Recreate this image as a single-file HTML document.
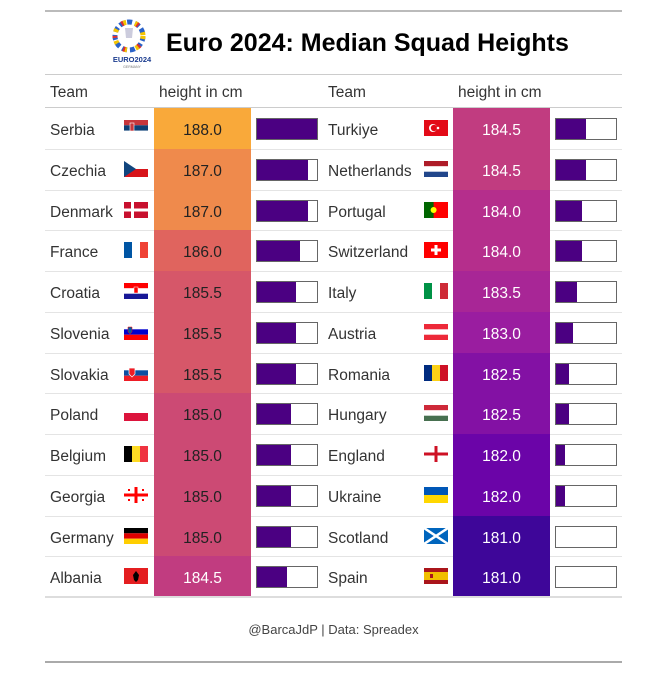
<!DOCTYPE html>
<html><head><meta charset="utf-8">
<style>
body{margin:0;background:#fff;font-family:"Liberation Sans",sans-serif;}
#wrap{position:relative;width:667px;height:683px;}
.line{position:absolute;left:45px;width:577px;}
.txt{position:absolute;font-size:15.5px;color:#333;white-space:nowrap;}
</style></head>
<body>
<div id="wrap">
<div class="line" style="top:10px;height:2px;background:#bbb"></div>
<svg style="position:absolute;left:107px;top:16px" width="50" height="56" viewBox="0 0 50 56">
<circle cx="22" cy="20" r="14" fill="none" stroke="#2a62c9" stroke-width="5" stroke-dasharray="5 3"/>
<circle cx="22" cy="20" r="14" fill="none" stroke="#f4c400" stroke-width="5" stroke-dasharray="3 9"/>
<circle cx="22" cy="20" r="14" fill="none" stroke="#e03030" stroke-width="5" stroke-dasharray="2 14" stroke-dashoffset="6"/>
<path d="M18 12h8l-1 10h-6z" fill="#ccd"/>
<text x="25" y="46" font-size="7.5" font-weight="bold" fill="#1b3c8f" text-anchor="middle" font-family="Liberation Sans">EURO2024</text>
<text x="25" y="52" font-size="3.5" fill="#777" text-anchor="middle" font-family="Liberation Sans">GERMANY</text>
</svg>
<div class="txt" style="left:166px;top:29px;font-size:25px;font-weight:bold;color:#000">Euro 2024: Median Squad Heights</div>
<div class="line" style="top:74px;height:1px;background:#ccc"></div>
<div class="txt" style="left:50px;top:84px">Team</div>
<div class="txt" style="left:159px;top:84px">height in cm</div>
<div class="txt" style="left:328px;top:84px">Team</div>
<div class="txt" style="left:458px;top:84px">height in cm</div>
<div class="line" style="top:107px;height:1px;background:#ccc"></div>
<div id="rows"></div>
<div class="line" style="top:596px;height:2px;background:#ddd"></div>
<div class="txt" style="left:0;width:667px;text-align:center;top:622px;font-size:13px;color:#444">@BarcaJdP | Data: Spreadex</div>
<div class="line" style="top:661px;height:2px;background:#aaa"></div>
</div>
<script>
const teamsLeft=["Serbia","Czechia","Denmark","France","Croatia","Slovenia","Slovakia","Poland","Belgium","Georgia","Germany","Albania"];
const heightsLeft=[188.0,187.0,187.0,186.0,185.5,185.5,185.5,185.0,185.0,185.0,185.0,184.5];
const teamsRight=["Turkiye","Netherlands","Portugal","Switzerland","Italy","Austria","Romania","Hungary","England","Ukraine","Scotland","Spain"];
const heightsRight=[184.5,184.5,184.0,184.0,183.5,183.0,182.5,182.5,182.0,182.0,181.0,181.0];
const minH=181,maxH=188;
const stops=[[181,[62,6,153]],[182,[107,4,168]],[183,[154,29,160]],[184,[181,46,140]],[185,[204,74,116]],[186,[224,100,94]],[187,[239,138,76]],[188,[249,169,58]]];
function color(v){for(let i=0;i<stops.length-1;i++){const a=stops[i],b=stops[i+1];if(v<=b[0]){const t=(v-a[0])/(b[0]-a[0]);return 'rgb('+a[1].map((c,k)=>Math.round(c+(b[1][k]-c)*t)).join(',')+')';}}return 'rgb(249,169,58)';}
const F={
Serbia:'<rect width="24" height="5.3" fill="#c6363c"/><rect y="5.3" width="24" height="5.4" fill="#0c4076"/><rect y="10.7" width="24" height="5.3" fill="#fff"/><rect x="6" y="3" width="4" height="8" fill="#c6363c" stroke="#fff" stroke-width=".6"/>',
Czechia:'<rect width="24" height="8" fill="#fff"/><rect y="8" width="24" height="8" fill="#d7141a"/><path d="M0 0L12 8L0 16z" fill="#11457e"/>',
Denmark:'<rect width="24" height="16" fill="#c8102e"/><rect x="7" width="3" height="16" fill="#fff"/><rect y="6.5" width="24" height="3" fill="#fff"/>',
France:'<rect width="8" height="16" fill="#0055a4"/><rect x="8" width="8" height="16" fill="#fff"/><rect x="16" width="8" height="16" fill="#ef4135"/>',
Croatia:'<rect width="24" height="5.3" fill="#f00"/><rect y="5.3" width="24" height="5.4" fill="#fff"/><rect y="10.7" width="24" height="5.3" fill="#171796"/><rect x="10" y="4" width="4" height="6" fill="#f00" stroke="#fff" stroke-width=".5"/>',
Slovenia:'<rect width="24" height="5.3" fill="#fff"/><rect y="5.3" width="24" height="5.4" fill="#0000cd"/><rect y="10.7" width="24" height="5.3" fill="#f00"/><path d="M4 3h4v5l-2 2l-2-2z" fill="#005da4" stroke="#f00" stroke-width=".5"/>',
Slovakia:'<rect width="24" height="5.3" fill="#fff"/><rect y="5.3" width="24" height="5.4" fill="#0b4ea2"/><rect y="10.7" width="24" height="5.3" fill="#ee1c25"/><path d="M5 3h6v6l-3 3l-3-3z" fill="#ee1c25" stroke="#fff" stroke-width=".7"/>',
Poland:'<rect width="24" height="8" fill="#fff"/><rect y="8" width="24" height="8" fill="#dc143c"/>',
Belgium:'<rect width="8" height="16" fill="#000"/><rect x="8" width="8" height="16" fill="#fdda24"/><rect x="16" width="8" height="16" fill="#ef3340"/>',
Georgia:'<rect width="24" height="16" fill="#fff"/><rect x="10.5" width="3" height="16" fill="#f00"/><rect y="6.5" width="24" height="3" fill="#f00"/><g fill="#f00"><rect x="4" y="2" width="2" height="2"/><rect x="18" y="2" width="2" height="2"/><rect x="4" y="12" width="2" height="2"/><rect x="18" y="12" width="2" height="2"/></g>',
Germany:'<rect width="24" height="5.3" fill="#000"/><rect y="5.3" width="24" height="5.4" fill="#dd0000"/><rect y="10.7" width="24" height="5.3" fill="#ffce00"/>',
Albania:'<rect width="24" height="16" fill="#e41e20"/><path d="M12 3l3 4l-1 5l-2 2l-2-2l-1-5z" fill="#000"/>',
Turkiye:'<rect width="24" height="16" fill="#e30a17"/><circle cx="9" cy="8" r="4" fill="#fff"/><circle cx="10" cy="8" r="3.2" fill="#e30a17"/><circle cx="14" cy="8" r="1.3" fill="#fff"/>',
Netherlands:'<rect width="24" height="5.3" fill="#ae1c28"/><rect y="5.3" width="24" height="5.4" fill="#fff"/><rect y="10.7" width="24" height="5.3" fill="#21468b"/>',
Portugal:'<rect width="24" height="16" fill="#f00"/><rect width="9.6" height="16" fill="#060"/><circle cx="9.6" cy="8" r="3" fill="#ff0"/>',
Switzerland:'<rect width="24" height="16" fill="#f00"/><rect x="10.5" y="3" width="3" height="10" fill="#fff"/><rect x="7" y="6.5" width="10" height="3" fill="#fff"/>',
Italy:'<rect width="8" height="16" fill="#009246"/><rect x="8" width="8" height="16" fill="#fff"/><rect x="16" width="8" height="16" fill="#ce2b37"/>',
Austria:'<rect width="24" height="16" fill="#ed2939"/><rect y="5.3" width="24" height="5.4" fill="#fff"/>',
Romania:'<rect width="8" height="16" fill="#002b7f"/><rect x="8" width="8" height="16" fill="#fcd116"/><rect x="16" width="8" height="16" fill="#ce1126"/>',
Hungary:'<rect width="24" height="5.3" fill="#ce2939"/><rect y="5.3" width="24" height="5.4" fill="#fff"/><rect y="10.7" width="24" height="5.3" fill="#477050"/>',
England:'<rect width="24" height="16" fill="#fff"/><rect x="10.5" width="3" height="16" fill="#ce1124"/><rect y="6.5" width="24" height="3" fill="#ce1124"/>',
Ukraine:'<rect width="24" height="8" fill="#0057b7"/><rect y="8" width="24" height="8" fill="#ffd700"/>',
Scotland:'<rect width="24" height="16" fill="#0065bd"/><path d="M0 0L24 16M24 0L0 16" stroke="#fff" stroke-width="2.5"/>',
Spain:'<rect width="24" height="16" fill="#aa151b"/><rect y="4" width="24" height="8" fill="#f1bf00"/><rect x="6" y="6" width="3" height="4" fill="#aa151b"/>'
};
const rows=document.getElementById('rows');
const top0=108,rowH=40.75;
function addRow(i,team,h,side){
  const xs=side==0?{t:50,f:124,c:154,b:256}:{t:328,f:424,c:453,b:555};
  const y=top0+i*rowH;
  const g=document.createElement('div');
  
  
  const tc=h<184.75?'#fff':'#222';
  const frac=(h-minH)/(maxH-minH);
  g.innerHTML=
   '<div class="txt" style="left:'+xs.t+'px;top:'+(y+14)+'px">'+team+'</div>'+
   '<svg style="position:absolute;left:'+xs.f+'px;top:'+(y+12)+'px" width="24" height="16">'+F[team]+'</svg>'+
   '<div style="position:absolute;left:'+xs.c+'px;top:'+y+'px;width:97px;height:'+rowH+'px;background:'+color(h)+';color:'+tc+';font-size:15.5px;text-align:center;line-height:'+(rowH+5)+'px">'+h.toFixed(1)+'</div>'+
   '<div style="position:absolute;left:'+xs.b+'px;top:'+(y+10)+'px;width:60px;height:20px;border:1px solid #666;background:#fff"><div style="width:'+(frac*100)+'%;height:100%;background:#4b0082"></div></div>';
  if(side==0 && i>0){
    const l=document.createElement('div');
    
    
    l.className='line';l.style.cssText='top:'+y+'px;height:1px;background:#e4e4e4';
    rows.appendChild(l);
  }
  rows.appendChild(g);
}
teamsLeft.forEach((t,i)=>addRow(i,t,heightsLeft[i],0));
teamsRight.forEach((t,i)=>addRow(i,t,heightsRight[i],1));
</script>
</body></html>
